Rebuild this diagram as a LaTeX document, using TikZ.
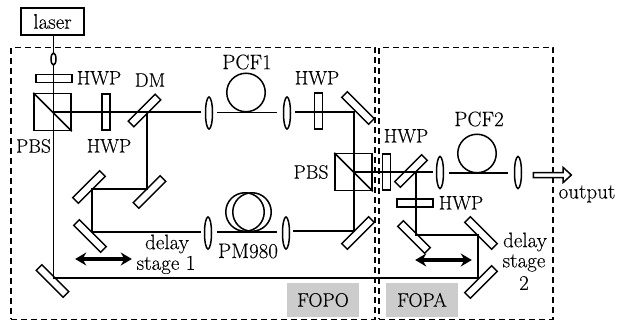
\documentclass[tikz,border=0pt]{standalone}
\usepackage{fontspec}
\setmainfont[FakeBold=0.2]{Latin Modern Roman}
\usetikzlibrary{shapes.geometric,shapes.arrows,arrows.meta}
\tikzset{
  lbl/.style={inner sep=0pt,align=center,font=\fontsize{21}{25}\selectfont},
  lblcaps/.style={inner sep=0pt,align=center,font=\fontsize{19.5}{23}\selectfont},
  optic/.style={draw=black,line width=1.5pt,inner sep=0pt,rectangle},
  mirror/.style={optic,minimum width=38pt,minimum height=8pt},
  hwpv/.style={optic,minimum width=8pt,minimum height=36pt},
  hwph/.style={optic,minimum width=36pt,minimum height=8pt},
  pbs/.style={optic,minimum width=37pt,minimum height=37pt},
  lens/.style={draw=black,line width=1.5pt,ellipse,inner sep=0pt,minimum width=7pt,minimum height=32pt},
  coil/.style={draw=black,line width=1.5pt,circle,inner sep=0pt,minimum size=38.5pt},
  beam/.style={line width=1.7pt},
  region/.style={draw=black,line width=1.1pt,dash pattern=on 6pt off 4pt,inner sep=0pt,rectangle},
  tag/.style={fill=black!20,inner sep=0pt,minimum width=72pt,minimum height=34pt,font=\fontsize{19.5}{23}\selectfont},
  stagearrow/.style={line width=3.2pt,{Stealth[length=11pt,width=13pt]}-{Stealth[length=11pt,width=13pt]}}
}
\begin{document}
\begin{tikzpicture}[x=1pt,y=-1pt]
\useasboundingbox (0,0) rectangle (619,321);
% regions and tags
\node[region,minimum width=364pt,minimum height=271.5pt] (fopo) at (193,183.5) {};
\node[region,minimum width=174pt,minimum height=271.5pt] (fopa) at (466,183.5) {};
\node[tag] (fopotag) at (323,300) {FOPO};
\node[tag] (fopatag) at (422,300) {FOPA};
% source
\node[optic,minimum width=63pt,minimum height=27pt] (laser) at (52.5,21.5) {};
\node[lbl] at (laser.center) {laser};
\node[draw=black,line width=1.5pt,ellipse,inner sep=0pt,minimum width=5pt,minimum height=12pt] (tip) at (53.5,59) {};
% optics, left
\node[hwph] (h1) at (54,78.5) {};
\node[pbs] (p1) at (52.5,112) {};
\node[hwpv] (h2) at (106,112) {};
\node[mirror,rotate=45] (dm) at (144.5,110.5) {};
\node[lens] (l1) at (209,113) {};
\node[coil] (c1) at (246,92.5) {};
\node[lens] (l2) at (287,113) {};
\node[hwpv] (h3) at (318.5,111) {};
\node[mirror,rotate=-45] (m1) at (358,108) {};
\node[pbs] (p2) at (353.5,172) {};
\node[mirror,rotate=45] (m2) at (358,233) {};
\node[lens] (l3) at (208,233) {};
\node[lens] (l4) at (286,233) {};
\node[coil] (c2) at (245,212) {};
\node[coil] (c3) at (252,212) {};
\node[mirror,rotate=45] (m3) at (149.5,192) {};
\node[mirror,rotate=45] (m4) at (89,187) {};
\node[mirror,rotate=-45] (m5) at (90,236) {};
\node[mirror,rotate=-45] (m6) at (52.5,281) {};
% optics, right
\node[hwpv] (h4) at (386.5,172) {};
\node[mirror,rotate=45] (dm2) at (411,171) {};
\node[lens] (l5) at (440,172.5) {};
\node[coil] (c4) at (477,153.5) {};
\node[lens] (l6) at (518,172.5) {};
\node[hwph] (h5) at (415,203) {};
\node[mirror,rotate=-45] (m7) at (414,237) {};
\node[mirror,rotate=-45] (m8) at (481,233) {};
\node[mirror,rotate=45] (m9) at (481,282) {};
\node[single arrow,draw=black,line width=1.5pt,fill=white,inner sep=0pt,minimum height=38pt,minimum width=15pt,single arrow head extend=1.5pt,single arrow tip angle=85,shape border rotate=0] (out) at (551,175) {};
% beam points
\coordinate (a1) at (53.5,35);
\coordinate (a2) at (53.5,112);
\coordinate (a3) at (53.5,278);
\coordinate (b1) at (147,112);
\coordinate (b2) at (147,189);
\coordinate (b3) at (92,189);
\coordinate (b4) at (92,232);
\coordinate (c5) at (354,112);
\coordinate (c6) at (354,231);
\coordinate (d1) at (416,172);
\coordinate (d2) at (416,235);
\coordinate (d3) at (478,235);
\coordinate (d4) at (478,278);
% beams
\draw[beam] (a1) -- (tip);
\draw[beam] (tip) -- (a3) -- (d4) -- (d3) -- (d2) -- (d1);
\draw[beam] (a2) -- (b1) -- (201,112);
\draw[beam] (b1) -- (b2) -- (b3) -- (b4) -- (201,232);
\draw[beam] (217,112.5) -- (277,112.5);
\draw[beam] (295,112) -- (c5) -- (c6) -- (293,231);
\draw[beam] (217,232) -- (277,232);
\draw[beam] (c5 |- p2.center) -- (433,172);
\draw[beam] (449,173) -- (508,173);
\draw[beam] (p1.north west) -- (p1.south east);
\draw[beam] (p2.north west) -- (p2.south east);
% stage arrows
\node[inner sep=0pt,minimum size=0pt] (s1a) at (75,259) {};
\node[inner sep=0pt,minimum size=0pt] (s1b) at (132,259) {};
\draw[stagearrow] (s1a) -- (s1b);
\node[inner sep=0pt,minimum size=0pt] (s2a) at (415,260) {};
\node[inner sep=0pt,minimum size=0pt] (s2b) at (472,260) {};
\draw[stagearrow] (s2a) -- (s2b);
% labels
\node[lblcaps] at (99,78) {HWP};
\node[lblcaps] at (150,80) {DM};
\node[lblcaps] at (33.5,146) {PBS};
\node[lblcaps] at (109,146) {HWP};
\node[lbl] at (247,62) {PCF1};
\node[lblcaps] at (317,78) {HWP};
\node[lblcaps] at (311,172) {PBS};
\node[lblcaps] at (406,136) {HWP};
\node[lbl] at (479,119) {PCF2};
\node[lblcaps] at (461,203) {HWP};
\node[lbl] at (587,194) {output};
\node[lbl] at (248,251) {PM980};
\node[lbl] at (167,244) {delay};
\node[lbl] at (166,265) {stage 1};
\node[lbl] at (525,242) {delay};
\node[lbl] at (524,263) {stage};
\node[lbl] at (524,283) {2};
\end{tikzpicture}
\end{document}
